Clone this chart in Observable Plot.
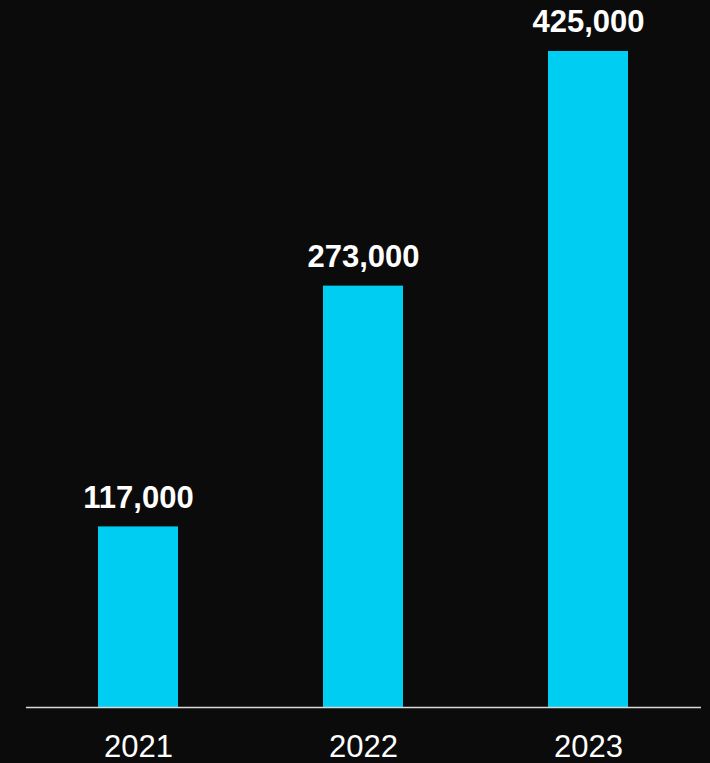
<!DOCTYPE html>
<html>
<head>
<meta charset="utf-8">
<script src="https://cdn.jsdelivr.net/npm/d3@7"></script>
<script src="https://cdn.jsdelivr.net/npm/@observablehq/plot@0.6"></script>
<style>
  html, body { margin: 0; padding: 0; background: #0b0b0b; }
  #chart { width: 710px; height: 763px; }
</style>
</head>
<body>
<div id="chart"></div>
<script>
const years = ["2021", "2022", "2023"];
const values = [117000, 273000, 425000];
const labels = ["117,000", "273,000", "425,000"];

const data = years.map((y, i) => ({year: y, value: values[i], label: labels[i]}));

const chart = Plot.plot({
  width: 710,
  height: 763,
  marginTop: 51,
  marginBottom: 56,
  marginLeft: 26,
  marginRight: 9,
  style: {background: "#0b0b0b", color: "#ffffff", fontFamily: "'Liberation Sans', Arial, sans-serif"},
  x: {domain: years, paddingInner: 0.6444, paddingOuter: 0.3222, label: null},
  y: {domain: [0, 425000], axis: null},
  marks: [
    Plot.barY(data, {x: "year", y: "value", fill: "#00cdf2"}),
    Plot.ruleY([0], {stroke: "#d9d9d9", strokeWidth: 1.6}),
    Plot.text(data, {x: "year", y: "value", text: "label", fill: "#ffffff", fontSize: 31, fontWeight: "bold", dy: -29}),
    Plot.axisX({tickSize: 0, tickPadding: 27, fontSize: 31, fill: "#ffffff", label: null})
  ]
});
document.getElementById("chart").appendChild(chart);
</script>
</body>
</html>
